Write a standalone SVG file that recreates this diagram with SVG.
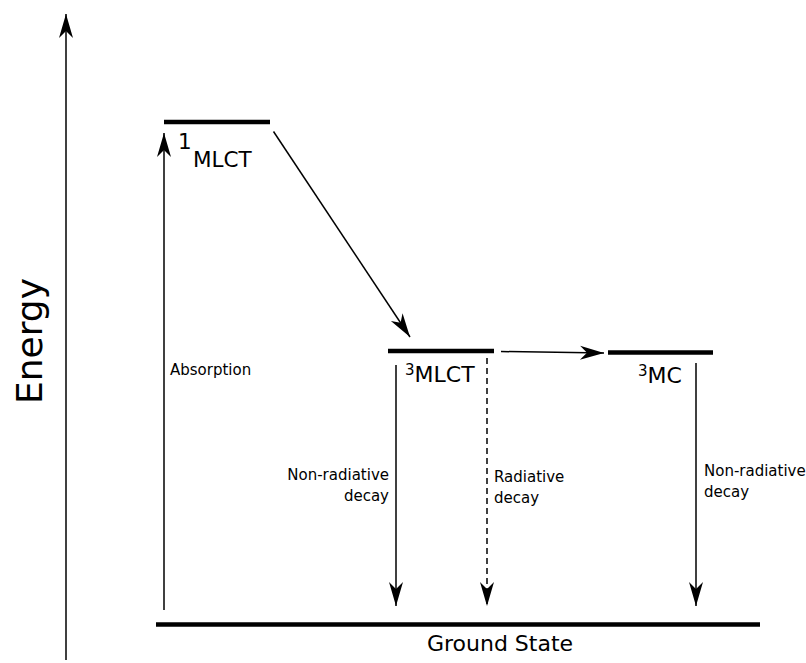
<svg xmlns="http://www.w3.org/2000/svg" width="806" height="663" viewBox="0 0 806 663">
<defs>
<marker id="ah" markerUnits="userSpaceOnUse" orient="auto" markerWidth="30" markerHeight="20" refX="0" refY="0" viewBox="-26 -10 30 20" overflow="visible">
<path d="M0,0 L-24,-7 L-17,0 L-24,7 Z" fill="#000"/>
</marker>
<style>
.lvl{stroke:#000;stroke-width:4.5;fill:none}
.arr{stroke:#000;stroke-width:1.5;fill:none;marker-end:url(#ah)}
.dash{stroke-dasharray:6,4}
text{font-family:"DejaVu Sans","Liberation Sans",sans-serif;fill:#000}
.sm{font-size:15px}
.lb{font-size:21.5px}
.lb2{font-size:22px}
</style>
</defs>
<g id="axis">
<line class="arr" x1="66" y1="660" x2="66" y2="14"/>
<text transform="translate(42,341) rotate(-90)" text-anchor="middle" font-size="36">Energy</text>
</g>
<g id="mlct1">
<line class="lvl" x1="164" y1="122" x2="270" y2="122"/>
<text class="lb" x="178" y="149">1</text>
<text class="lb" x="193" y="167">MLCT</text>
</g>
<g id="mlct3">
<line class="lvl" x1="388" y1="351" x2="494" y2="351"/>
<text x="405" y="382"><tspan font-size="15" dy="-7">3</tspan><tspan class="lb2" dy="7">MLCT</tspan></text>
</g>
<g id="mc3">
<line class="lvl" x1="608" y1="352.5" x2="713" y2="352.5"/>
<text x="638" y="383"><tspan font-size="15" dy="-7">3</tspan><tspan class="lb2" dy="7">MC</tspan></text>
</g>
<g id="ground">
<line class="lvl" x1="156" y1="624.5" x2="760" y2="624.5"/>
<text x="500" y="651" text-anchor="middle" font-size="22">Ground State</text>
</g>
<g id="connectors">
<line class="arr" x1="164" y1="610" x2="164" y2="133"/>
<line class="arr" x1="273.5" y1="131.5" x2="410" y2="337"/>
<line class="arr" x1="501" y1="351.5" x2="604" y2="353"/>
<line class="arr" x1="396" y1="365" x2="396" y2="606"/>
<line class="arr dash" x1="487" y1="358" x2="487" y2="606"/>
<line class="arr" x1="696" y1="363" x2="696" y2="606"/>
</g>
<g id="labels">
<text class="sm" x="170" y="375">Absorption</text>
<text class="sm" x="389" y="480" text-anchor="end">Non-radiative</text>
<text class="sm" x="389" y="501" text-anchor="end">decay</text>
<text class="sm" x="494" y="482">Radiative</text>
<text class="sm" x="494" y="503">decay</text>
<text class="sm" x="704" y="476">Non-radiative</text>
<text class="sm" x="704" y="497">decay</text>
</g>
</svg>
